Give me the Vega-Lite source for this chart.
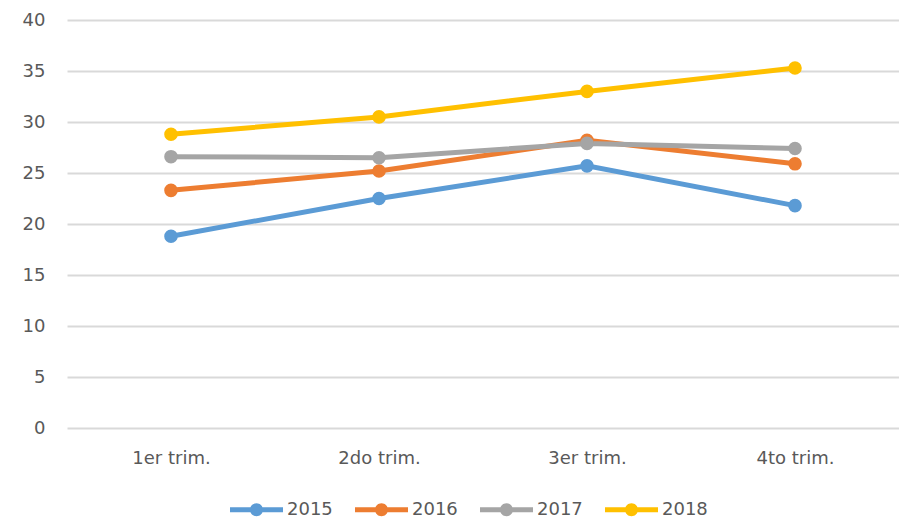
{
  "$schema": "https://vega.github.io/schema/vega-lite/v6.json",
  "width": 832,
  "height": 408,
  "autosize": {"type": "none"},
  "padding": {"left": 67, "top": 20, "right": 0, "bottom": 90},
  "background": "white",
  "config": {
    "font": "DejaVu Sans",
    "view": {"stroke": null},
    "axis": {"labelFont": "DejaVu Sans", "labelFontSize": 18, "labelColor": "#595959", "title": null}
  },
  "data": {
    "values": [
      {"trim": "1er trim.", "year": "2015", "value": 18.8},
      {"trim": "2do trim.", "year": "2015", "value": 22.5},
      {"trim": "3er trim.", "year": "2015", "value": 25.7},
      {"trim": "4to trim.", "year": "2015", "value": 21.8},
      {"trim": "1er trim.", "year": "2016", "value": 23.3},
      {"trim": "2do trim.", "year": "2016", "value": 25.2},
      {"trim": "3er trim.", "year": "2016", "value": 28.2},
      {"trim": "4to trim.", "year": "2016", "value": 25.9},
      {"trim": "1er trim.", "year": "2017", "value": 26.6},
      {"trim": "2do trim.", "year": "2017", "value": 26.5},
      {"trim": "3er trim.", "year": "2017", "value": 27.9},
      {"trim": "4to trim.", "year": "2017", "value": 27.4},
      {"trim": "1er trim.", "year": "2018", "value": 28.8},
      {"trim": "2do trim.", "year": "2018", "value": 30.5},
      {"trim": "3er trim.", "year": "2018", "value": 33.0},
      {"trim": "4to trim.", "year": "2018", "value": 35.3}
    ]
  },
  "mark": {"type": "line", "strokeWidth": 5, "point": {"filled": true, "size": 185, "opacity": 1}},
  "encoding": {
    "x": {
      "field": "trim", "type": "ordinal",
      "sort": ["1er trim.", "2do trim.", "3er trim.", "4to trim."],
      "scale": {"type": "point", "padding": 0.5},
      "axis": {"labelAngle": 0, "domain": false, "ticks": false, "grid": false, "labelPadding": 21}
    },
    "y": {
      "field": "value", "type": "quantitative",
      "scale": {"domain": [0, 40], "nice": false},
      "axis": {"values": [0, 5, 10, 15, 20, 25, 30, 35, 40], "domain": false, "ticks": false, "grid": true, "gridColor": "#D9D9D9", "gridWidth": 2, "labelPadding": 22}
    },
    "color": {
      "field": "year", "type": "nominal",
      "scale": {"domain": ["2015", "2016", "2017", "2018"], "range": ["#5B9BD5", "#ED7D31", "#A5A5A5", "#FFC000"]},
      "legend": {
        "title": null,
        "orient": "none",
        "direction": "horizontal",
        "legendX": 163,
        "legendY": 463,
        "symbolType": "M-1,-0.094L1,-0.094L1,0.094L-1,0.094Z M-0.245,0A0.245,0.245 0 1,1 0.245,0A0.245,0.245 0 1,1 -0.245,0Z",
        "symbolSize": 2809,
        "symbolStrokeWidth": 0,
        "labelFont": "DejaVu Sans",
        "labelFontSize": 18,
        "labelColor": "#595959",
        "labelOffset": 4,
        "columnPadding": 22,
        "encode": {
          "symbols": {"update": {"fill": {"scale": "color", "field": "value"}, "strokeWidth": {"value": 0}, "opacity": {"value": 1}}}
        }
      }
    }
  }
}
